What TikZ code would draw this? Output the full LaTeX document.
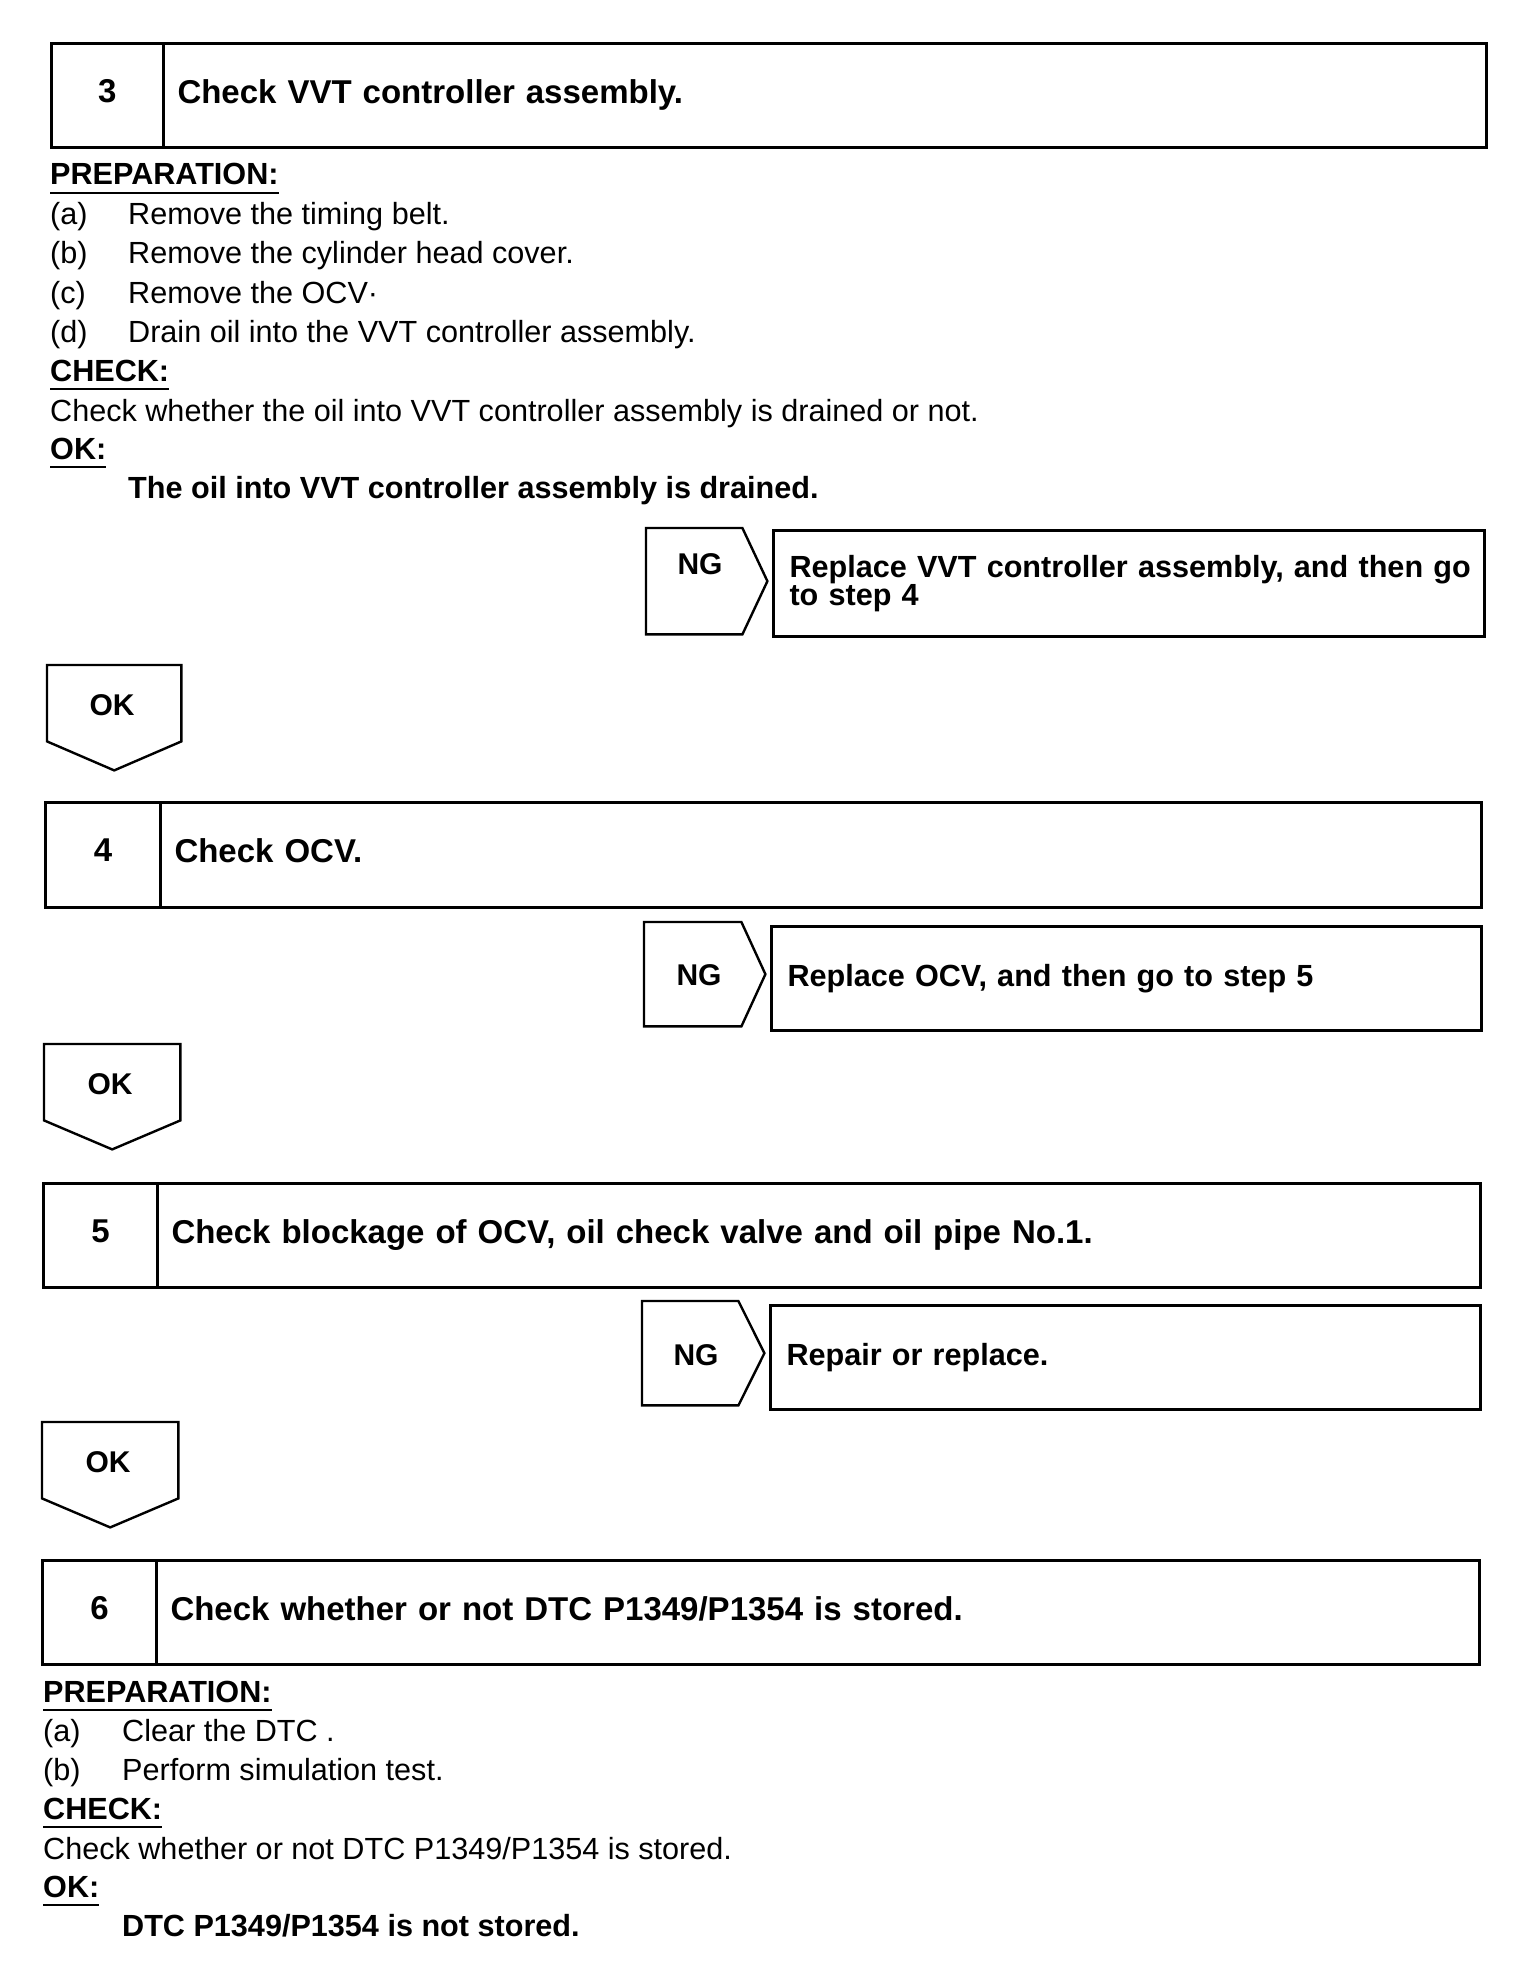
\documentclass[tikz,border=0pt]{standalone}
\usepackage{fontspec}
\setmainfont{Liberation Sans}
\begin{document}
\begin{tikzpicture}[x=1pt,y=-1pt,
  boxline/.style={line width=3pt},
  arrline/.style={line width=2.4pt, line join=miter},
  numcell/.style={draw, boxline, anchor=north west, inner sep=0pt,
    font=\fontsize{33}{40}\selectfont\bfseries, text height=0.72em+6pt, text depth=0pt},
  titlecell/.style={draw, boxline, anchor=north west, inner xsep=14pt, inner ysep=0pt, align=left,
    font=\fontsize{33}{40}\selectfont\bfseries, text height=0.72em+8pt, text depth=0pt},
  ngcell/.style={draw, boxline, anchor=north west, inner xsep=16pt, inner ysep=0pt, align=left,
    font=\fontsize{30.6}{27}\selectfont\bfseries},
  shapebox/.style={draw=none, anchor=north west, inner sep=0pt},
  lbl/.style={inner sep=0pt, font=\fontsize{30}{36}\selectfont\bfseries},
  body/.style={inner sep=0pt, anchor=base west, font=\fontsize{30.6}{39}\selectfont},
  bodyb/.style={inner sep=0pt, anchor=base west, font=\fontsize{30.6}{39}\selectfont\bfseries},
  uline/.style={line width=2.5pt}
]
\useasboundingbox (0,0) rectangle (1536,1988);

% ---------------- Step 3
\node[numcell, minimum width=112.5pt, minimum height=104pt] (s3n) at (49.5,42) {3};
\node[titlecell, minimum height=104pt, text width=1295pt] (s3t) at (162,42) {Check VVT controller assembly.};

\node[bodyb] (p3) at (50,185) {PREPARATION:};
\draw[uline] ([yshift=-8pt]p3.base west) -- ([yshift=-8pt]p3.base east);
\node[body] (p3a) at (50,224) {(a)};
\node[body] (p3at) at (128,224) {Remove the timing belt.};
\node[body] (p3b) at (50,263) {(b)};
\node[body] (p3bt) at (128,263) {Remove the cylinder head cover.};
\node[body] (p3c) at (50,303) {(c)};
\node[body] (p3ct) at (128,303) {Remove the OCV·};
\node[body] (p3d) at (50,342) {(d)};
\node[body] (p3dt) at (128,342) {Drain oil into the VVT controller assembly.};
\node[bodyb] (c3) at (50,381) {CHECK:};
\draw[uline] ([yshift=-8pt]c3.base west) -- ([yshift=-8pt]c3.base east);
\node[body] (c3t) at (50,421) {Check whether the oil into VVT controller assembly is drained or not.};
\node[bodyb] (o3) at (50,459) {OK:};
\draw[uline] ([yshift=-8pt]o3.base west) -- ([yshift=-8pt]o3.base east);
\node[bodyb] (o3t) at (128,498) {The oil into VVT controller assembly is drained.};

% NG 1
\node[shapebox, minimum width=121pt, minimum height=106pt] (ng1s) at (646,528) {};
\draw[arrline] (ng1s.north west) -- ([xshift=-25pt]ng1s.north east) -- (ng1s.east)
  -- ([xshift=-25pt]ng1s.south east) -- (ng1s.south west) -- cycle;
\node[lbl] (ng1) at (700,564) {NG};
\node[ngcell, minimum height=106pt, text width=679pt] (r1) at (772,529)
  {\mbox{Replace VVT controller assembly, and then go}\\\mbox{to step 4}};

% OK 1
\node[shapebox, minimum width=134pt, minimum height=105pt] (ok1s) at (47,665) {};
\draw[arrline] (ok1s.north west) -- (ok1s.north east) -- ([yshift=29pt]ok1s.south east)
  -- (ok1s.south) -- ([yshift=29pt]ok1s.south west) -- cycle;
\node[lbl] (ok1) at (112,705) {OK};

% ---------------- Step 4
\node[numcell, minimum width=115pt, minimum height=105pt] (s4n) at (44,801) {4};
\node[titlecell, minimum height=105pt, text width=1293pt] (s4t) at (159,801) {Check OCV.};

% NG 2
\node[shapebox, minimum width=121pt, minimum height=104pt] (ng2s) at (644,922) {};
\draw[arrline] (ng2s.north west) -- ([xshift=-24pt]ng2s.north east) -- (ng2s.east)
  -- ([xshift=-24pt]ng2s.south east) -- (ng2s.south west) -- cycle;
\node[lbl] (ng2) at (699,975) {NG};
\node[ngcell, minimum height=104pt, text width=678pt] (r2) at (770,925)
  {Replace OCV, and then go to step 5};

% OK 2
\node[shapebox, minimum width=136pt, minimum height=105pt] (ok2s) at (44,1044) {};
\draw[arrline] (ok2s.north west) -- (ok2s.north east) -- ([yshift=29pt]ok2s.south east)
  -- (ok2s.south) -- ([yshift=29pt]ok2s.south west) -- cycle;
\node[lbl] (ok2) at (110,1084) {OK};

% ---------------- Step 5
\node[numcell, minimum width=114pt, minimum height=104pt] (s5n) at (42,1182) {5};
\node[titlecell, minimum height=104pt, text width=1295pt] (s5t) at (156,1182)
  {Check blockage of OCV, oil check valve and oil pipe No.1.};

% NG 3
\node[shapebox, minimum width=122pt, minimum height=104pt] (ng3s) at (642,1301) {};
\draw[arrline] (ng3s.north west) -- ([xshift=-26pt]ng3s.north east) -- (ng3s.east)
  -- ([xshift=-26pt]ng3s.south east) -- (ng3s.south west) -- cycle;
\node[lbl] (ng3) at (696,1355) {NG};
\node[ngcell, minimum height=104pt, text width=678pt] (r3) at (769,1304)
  {Repair or replace.};

% OK 3
\node[shapebox, minimum width=136pt, minimum height=105pt] (ok3s) at (42,1422) {};
\draw[arrline] (ok3s.north west) -- (ok3s.north east) -- ([yshift=29pt]ok3s.south east)
  -- (ok3s.south) -- ([yshift=29pt]ok3s.south west) -- cycle;
\node[lbl] (ok3) at (108,1462) {OK};

% ---------------- Step 6
\node[numcell, minimum width=114pt, minimum height=104pt] (s6n) at (41,1559) {6};
\node[titlecell, minimum height=104pt, text width=1295pt] (s6t) at (155,1559)
  {Check whether or not DTC P1349/P1354 is stored.};

\node[bodyb] (p6) at (43,1702) {PREPARATION:};
\draw[uline] ([yshift=-8pt]p6.base west) -- ([yshift=-8pt]p6.base east);
\node[body] (p6a) at (43,1741) {(a)};
\node[body] (p6at) at (122,1741) {Clear the DTC .};
\node[body] (p6b) at (43,1780) {(b)};
\node[body] (p6bt) at (122,1780) {Perform simulation test.};
\node[bodyb] (c6) at (43,1819) {CHECK:};
\draw[uline] ([yshift=-8pt]c6.base west) -- ([yshift=-8pt]c6.base east);
\node[body] (c6t) at (43,1859) {Check whether or not DTC P1349/P1354 is stored.};
\node[bodyb] (o6) at (43,1897) {OK:};
\draw[uline] ([yshift=-8pt]o6.base west) -- ([yshift=-8pt]o6.base east);
\node[bodyb] (o6t) at (122,1936) {DTC P1349/P1354 is not stored.};
\end{tikzpicture}
\end{document}
